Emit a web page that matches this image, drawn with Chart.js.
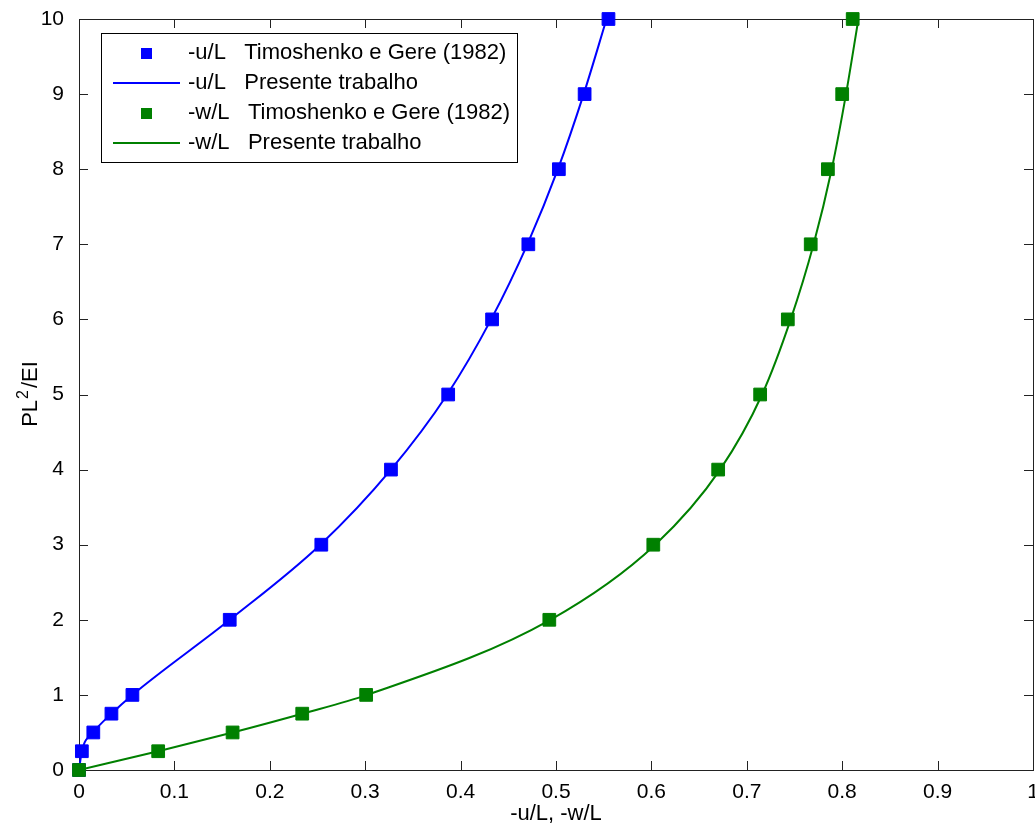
<!DOCTYPE html>
<html>
<head>
<meta charset="utf-8">
<script src="https://cdn.jsdelivr.net/npm/chart.js@4.4.1/dist/chart.umd.min.js"></script>
<style>
  html, body { margin: 0; padding: 0; background: #fff; }
  #wrap { width: 1035px; height: 827px; }
</style>
</head>
<body>
<div id="wrap"><canvas id="beamChart" width="1035" height="827"></canvas></div>
<script>
// carga adimensional PL^2/EI
const loads = [0, 0.25, 0.5, 0.75, 1, 2, 3, 4, 5, 6, 7, 8, 9, 10];
// Timoshenko e Gere (1982)
const uRef = [0, 0.003, 0.015, 0.034, 0.056, 0.158, 0.254, 0.327, 0.387, 0.433, 0.471, 0.503, 0.530, 0.555];
const wRef = [0, 0.083, 0.161, 0.234, 0.301, 0.493, 0.602, 0.670, 0.714, 0.743, 0.767, 0.785, 0.800, 0.811];
// Presente trabalho
const uLine = [0, 0.003, 0.015, 0.034, 0.056, 0.158, 0.253, 0.327, 0.386, 0.432, 0.470, 0.502, 0.529, 0.553];
const wLine = [0, 0.083, 0.161, 0.234, 0.302, 0.494, 0.604, 0.672, 0.716, 0.746, 0.770, 0.789, 0.804, 0.817];
const xTicks = [0, 0.1, 0.2, 0.3, 0.4, 0.5, 0.6, 0.7, 0.8, 0.9, 1];
const yTicks = [0, 1, 2, 3, 4, 5, 6, 7, 8, 9, 10];

const BLUE = '#0000ff';
const GREEN = '#008000';
const FONT = '"Liberation Sans", Arial, sans-serif';

function pairs(xs, ys) {
    return xs.map((x, i) => ({ x: x, y: ys[i] }));
}

// ticks para dentro, caixa fechada (estilo matlab)
const boxTicks = {
    id: 'boxTicks',
    beforeDatasetsDraw(chart) {
        const ctx = chart.ctx;
        const a = chart.chartArea;
        const xs = chart.scales.x, ys = chart.scales.y;
        const len = 9;
        ctx.save();
        ctx.strokeStyle = '#222';
        ctx.lineWidth = 1;
        ctx.beginPath();
        xTicks.forEach(v => {
            const px = Math.round(xs.getPixelForValue(v)) + 0.5;
            ctx.moveTo(px, a.bottom); ctx.lineTo(px, a.bottom - len);
            ctx.moveTo(px, a.top); ctx.lineTo(px, a.top + len);
        });
        yTicks.forEach(v => {
            const py = Math.round(ys.getPixelForValue(v)) + 0.5;
            ctx.moveTo(a.left, py); ctx.lineTo(a.left + len, py);
            ctx.moveTo(a.right, py); ctx.lineTo(a.right - len, py);
        });
        ctx.stroke();
        ctx.strokeRect(Math.round(a.left) + 0.5, Math.round(a.top) + 0.5,
            Math.round(a.right - a.left), Math.round(a.bottom - a.top));
        ctx.restore();
    }
};

// titulo do eixo y com expoente
const yTitle = {
    id: 'yTitle',
    afterDraw(chart) {
        const ctx = chart.ctx;
        const a = chart.chartArea;
        ctx.save();
        ctx.translate(37, (a.top + a.bottom) / 2);
        ctx.rotate(-Math.PI / 2);
        ctx.fillStyle = '#000';
        ctx.textBaseline = 'alphabetic';
        ctx.font = '22px ' + FONT;
        const w1 = ctx.measureText('PL').width;
        const w3 = ctx.measureText('/EI').width;
        ctx.font = '16px ' + FONT;
        const w2 = ctx.measureText('2').width + 2;
        let x = -(w1 + w2 + w3) / 2;
        ctx.font = '22px ' + FONT;
        ctx.fillText('PL', x, 0);
        x += w1 + 1;
        ctx.font = '16px ' + FONT;
        ctx.fillText('2', x, -9);
        x += w2;
        ctx.font = '22px ' + FONT;
        ctx.fillText('/EI', x, 0);
        ctx.restore();
    }
};

// legenda dentro do grafico
const boxLegend = {
    id: 'boxLegend',
    afterDraw(chart) {
        const ctx = chart.ctx;
        const a = chart.chartArea;
        const bx = a.left + 22, by = a.top + 14;
        ctx.save();
        ctx.fillStyle = '#fff';
        ctx.fillRect(bx, by, 416, 129);
        ctx.strokeStyle = '#000';
        ctx.lineWidth = 1;
        ctx.strokeRect(bx + 0.5, by + 0.5, 416, 129);
        ctx.font = '22px ' + FONT;
        ctx.textBaseline = 'middle';
        chart.data.datasets.forEach((ds, i) => {
            const y = by + 20 + i * 30;
            if (ds.showLine) {
                ctx.strokeStyle = ds.borderColor;
                ctx.lineWidth = 2;
                ctx.beginPath();
                ctx.moveTo(a.left + 34, y); ctx.lineTo(a.left + 101, y);
                ctx.stroke();
            } else {
                ctx.fillStyle = ds.backgroundColor;
                ctx.fillRect(a.left + 62, y - 5, 11, 11);
            }
            ctx.fillStyle = '#000';
            ctx.fillText(ds.label, a.left + 109, y);
        });
        ctx.restore();
    }
};

new Chart(document.getElementById('beamChart'), {
    type: 'scatter',
    data: {
        datasets: [{
            label: '-u/L   Timoshenko e Gere (1982)',
            data: pairs(uRef, loads),
            showLine: false,
            clip: false,
            pointStyle: 'rect',
            pointRadius: 9,
            backgroundColor: BLUE,
            borderColor: BLUE,
            order: 4
        }, {
            label: '-u/L   Presente trabalho',
            data: pairs(uLine, loads),
            showLine: true,
            cubicInterpolationMode: 'monotone',
            pointRadius: 0,
            borderWidth: 2,
            borderColor: BLUE,
            backgroundColor: BLUE,
            order: 3
        }, {
            label: '-w/L   Timoshenko e Gere (1982)',
            data: pairs(wRef, loads),
            showLine: false,
            clip: false,
            pointStyle: 'rect',
            pointRadius: 9,
            backgroundColor: GREEN,
            borderColor: GREEN,
            order: 2
        }, {
            label: '-w/L   Presente trabalho',
            data: pairs(wLine, loads),
            showLine: true,
            cubicInterpolationMode: 'monotone',
            pointRadius: 0,
            borderWidth: 2,
            borderColor: GREEN,
            backgroundColor: GREEN,
            order: 1
        }]
    },
    options: {
        responsive: false,
        animation: false,
        layout: { autoPadding: false, padding: { left: 0, top: 19, right: 2, bottom: 0 } },
        plugins: {
            legend: { display: false },
            tooltip: { enabled: false }
        },
        scales: {
            x: {
                type: 'linear',
                min: 0, max: 1,
                afterFit: s => { s.height = 57; s.paddingRight = 0; s.paddingLeft = 0; },
                afterBuildTicks: s => { s.ticks = xTicks.map(v => ({ value: v })); },
                grid: { display: false },
                border: { display: false },
                ticks: {
                    color: '#000',
                    padding: 2,
                    font: { family: FONT, size: 21 },
                    maxRotation: 0,
                    callback: v => String(v)
                },
                title: {
                    display: true,
                    text: '-u/L, -w/L',
                    color: '#000',
                    padding: { top: 0, bottom: 0 },
                    font: { family: FONT, size: 22 }
                }
            },
            y: {
                type: 'linear',
                min: 0, max: 10,
                afterFit: s => { s.width = 79; s.paddingTop = 0; s.paddingBottom = 0; },
                afterBuildTicks: s => { s.ticks = yTicks.map(v => ({ value: v })); },
                grid: { display: false },
                border: { display: false },
                ticks: {
                    color: '#000',
                    padding: 7,
                    font: { family: FONT, size: 21 },
                    callback: v => String(v)
                }
            }
        }
    },
    plugins: [boxTicks, yTitle, boxLegend]
});
</script>
</body>
</html>
